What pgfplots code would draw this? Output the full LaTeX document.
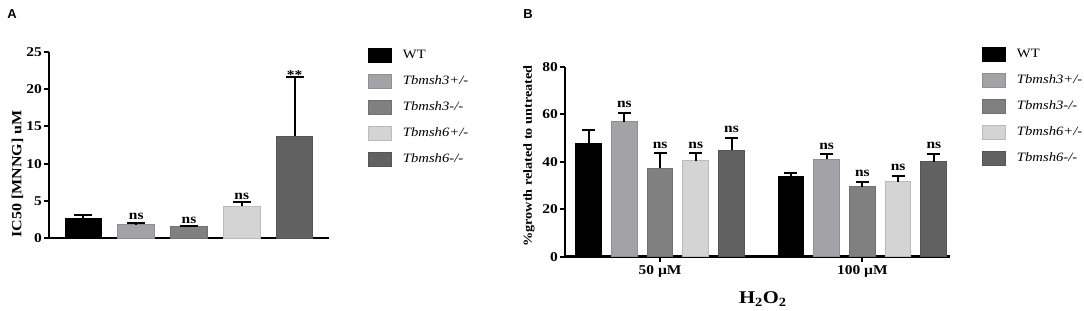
\documentclass[border=0pt]{standalone}
\usepackage{fontspec}
\setmainfont{Liberation Serif}[FakeStretch=1.15]
\newfontfamily\panelfont{Liberation Sans}
\usepackage{pgfplots}
\pgfplotsset{compat=1.18}
\definecolor{cWT}{HTML}{000000}
\definecolor{cA}{HTML}{A3A3A7}
\definecolor{cB}{HTML}{808080}
\definecolor{cC}{HTML}{D4D4D4}
\definecolor{cD}{HTML}{616161}
\tikzset{nslab/.style={anchor=south, inner sep=0pt, font=\fontsize{13.5}{13.5}\selectfont\bfseries}}
\pgfplotsset{
  myaxis/.style={
    scale only axis, clip=false,
    axis lines*=left,
    axis line style={line width=2.6bp, black},
    ymin=0,
    tick align=outside,
    major tick length=5bp,
    tick style={line width=2bp, black},
    /pgf/number format/assume math mode=true,
    ticklabel style={font=\fontsize{13.5}{13.5}\selectfont\bfseries},
    y tick label style={inner sep=2bp},
    legend cell align=left,
    legend image code/.code={\draw[##1, line width=1bp] (0bp,-7bp) rectangle (23bp,7bp);},
    legend style={draw=none, fill=none, anchor=north west, inner sep=0pt, outer sep=0pt,
      font=\fontsize{12.8}{12.8}\selectfont, row sep=11bp,
      nodes={inner sep=0pt, text height=9bp, text depth=3bp},
      /tikz/every odd column/.append style={column sep=11bp}},
  },
  mybar/.style={ybar, bar shift=0pt, fill=#1, draw=#1!88!black, line width=1bp},
}
\begin{document}
\begin{tikzpicture}[x=1bp,y=1bp]
\useasboundingbox (0,0) rectangle (1084,310);
% ---------------- Panel A ----------------
\begin{axis}[myaxis,
  at={(49bp,72bp)}, anchor=south west,
  width=280bp, height=186bp,
  xmin=-0.654, xmax=4.654,
  ymax=25, ytick={0,5,10,15,20,25},
  xtick=\empty,
  ylabel={IC50 [MNNG] uM},
  ylabel style={at={(axis description cs:-0.1125,0.344)}, anchor=center, rotate=0,
    font=\fontsize{14}{14}\selectfont\bfseries},
  legend style={at={(axis description cs:1.139,1.0215)}},
]
\addplot[bar width=0.70, mybar=cWT, error bars/.cd, y dir=plus, y explicit,
  error bar style={line width=2bp, black}, error mark options={rotate=90, line width=2bp, black, mark size=9bp}]
  coordinates {(0,2.65) +- (0,0.45)};
\addlegendentry{WT}
\addplot[bar width=0.70, mybar=cA, error bars/.cd, y dir=plus, y explicit,
  error bar style={line width=2bp, black}, error mark options={rotate=90, line width=2bp, black, mark size=9bp}]
  coordinates {(1,1.75) +- (0,0.30)};
\addlegendentry{\itshape Tbmsh3+/-}
\addplot[bar width=0.70, mybar=cB, error bars/.cd, y dir=plus, y explicit,
  error bar style={line width=2bp, black}, error mark options={rotate=90, line width=2bp, black, mark size=9bp}]
  coordinates {(2,1.50) +- (0,0.12)};
\addlegendentry{\itshape Tbmsh3-/-}
\addplot[bar width=0.70, mybar=cC, error bars/.cd, y dir=plus, y explicit,
  error bar style={line width=2bp, black}, error mark options={rotate=90, line width=2bp, black, mark size=9bp}]
  coordinates {(3,4.30) +- (0,0.50)};
\addlegendentry{\itshape Tbmsh6+/-}
\addplot[bar width=0.70, mybar=cD, error bars/.cd, y dir=plus, y explicit,
  error bar style={line width=2bp, black}, error mark options={rotate=90, line width=2bp, black, mark size=9bp}]
  coordinates {(4,13.70) +- (0,7.90)};
\addlegendentry{\itshape Tbmsh6-/-}
\node[nslab, yshift=2.5bp] at (axis cs:1,2.05) {ns};
\node[nslab, yshift=2.5bp] at (axis cs:2,1.62) {ns};
\node[nslab, yshift=2.5bp] at (axis cs:3,4.80) {ns};
\node[nslab, anchor=base, yshift=-2.5bp] at (axis cs:4,21.6) {**};
\node[font=\panelfont\fontsize{13}{13}\selectfont\bfseries] at (rel axis cs:-0.132,1.204) {A};
\end{axis}
% ---------------- Panel B ----------------
\begin{axis}[myaxis,
  at={(565bp,53.3bp)}, anchor=south west,
  width=385bp, height=190bp,
  xmin=-0.47, xmax=1.433,
  ymax=80, ytick={0,20,40,60,80},
  xtick={0,1}, xticklabels={50 µM, 100 µM},
  ylabel={\%growth related to untreated},
  ylabel style={at={(axis description cs:-0.0935,0.53)}, anchor=center, rotate=0,
    font=\fontsize{12.4}{12.4}\selectfont\bfseries},
  xlabel={H\textsubscript{2}O\textsubscript{2}},
  xlabel style={at={(axis description cs:0.514,-0.223)}, anchor=center,
    font=\fontsize{18}{18}\selectfont\bfseries},
  legend style={at={(axis description cs:1.083,1.104)}},
]
\addplot[bar width=0.127, mybar=cWT, error bars/.cd, y dir=plus, y explicit,
  error bar style={line width=2bp, black}, error mark options={rotate=90, line width=2bp, black, mark size=6.5bp}]
  coordinates {(-0.353,47.7) +- (0,5.6) (0.647,33.7) +- (0,1.7)};
\addlegendentry{WT}
\addplot[bar width=0.127, mybar=cA, error bars/.cd, y dir=plus, y explicit,
  error bar style={line width=2bp, black}, error mark options={rotate=90, line width=2bp, black, mark size=6.5bp}]
  coordinates {(-0.1765,56.8) +- (0,3.6) (0.8235,41.0) +- (0,2.1)};
\addlegendentry{\itshape Tbmsh3+/-}
\addplot[bar width=0.127, mybar=cB, error bars/.cd, y dir=plus, y explicit,
  error bar style={line width=2bp, black}, error mark options={rotate=90, line width=2bp, black, mark size=6.5bp}]
  coordinates {(0,37.2) +- (0,6.3) (1,29.5) +- (0,1.9)};
\addlegendentry{\itshape Tbmsh3-/-}
\addplot[bar width=0.127, mybar=cC, error bars/.cd, y dir=plus, y explicit,
  error bar style={line width=2bp, black}, error mark options={rotate=90, line width=2bp, black, mark size=6.5bp}]
  coordinates {(0.1765,40.4) +- (0,3.1) (1.1765,31.6) +- (0,2.5)};
\addlegendentry{\itshape Tbmsh6+/-}
\addplot[bar width=0.127, mybar=cD, error bars/.cd, y dir=plus, y explicit,
  error bar style={line width=2bp, black}, error mark options={rotate=90, line width=2bp, black, mark size=6.5bp}]
  coordinates {(0.353,44.9) +- (0,5.2) (1.353,40.0) +- (0,3.2)};
\addlegendentry{\itshape Tbmsh6-/-}
\node[nslab, yshift=5bp] at (axis cs:-0.1765,60.4) {ns};
\node[nslab, yshift=5bp] at (axis cs:0,43.5) {ns};
\node[nslab, yshift=5bp] at (axis cs:0.1765,43.5) {ns};
\node[nslab, yshift=5bp] at (axis cs:0.353,50.1) {ns};
\node[nslab, yshift=5bp] at (axis cs:0.8235,43.1) {ns};
\node[nslab, yshift=5bp] at (axis cs:1,31.4) {ns};
\node[nslab, yshift=5bp] at (axis cs:1.1765,34.1) {ns};
\node[nslab, yshift=5bp] at (axis cs:1.353,43.2) {ns};
\node[font=\panelfont\fontsize{13}{13}\selectfont\bfseries] at (rel axis cs:-0.096,1.277) {B};
\end{axis}
\end{tikzpicture}
\end{document}
